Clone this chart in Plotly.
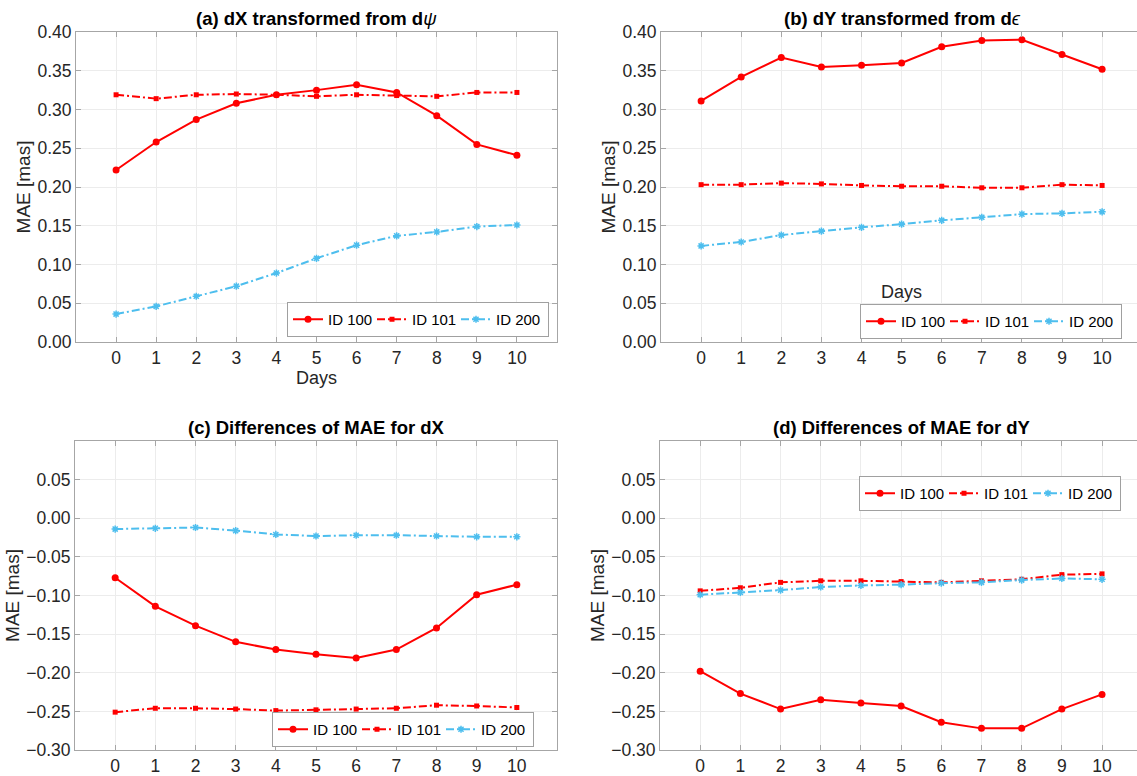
import plotly.graph_objects as go

days = list(range(11))
series_names = ["ID 100", "ID 101", "ID 200"]

a_id100 = [0.222, 0.258, 0.287, 0.308, 0.319, 0.325, 0.332, 0.322, 0.292, 0.255, 0.241]
a_id101 = [0.319, 0.314, 0.319, 0.320, 0.319, 0.317, 0.319, 0.318, 0.317, 0.322, 0.322]
a_id200 = [0.036, 0.046, 0.059, 0.072, 0.089, 0.108, 0.125, 0.137, 0.142, 0.149, 0.151]

b_id100 = [0.311, 0.342, 0.367, 0.355, 0.357, 0.360, 0.381, 0.389, 0.390, 0.371, 0.352]
b_id101 = [0.203, 0.203, 0.205, 0.204, 0.202, 0.201, 0.201, 0.199, 0.199, 0.203, 0.202]
b_id200 = [0.124, 0.129, 0.138, 0.143, 0.148, 0.152, 0.157, 0.161, 0.165, 0.166, 0.168]

c_id100 = [-0.077, -0.114, -0.139, -0.160, -0.170, -0.176, -0.181, -0.170, -0.142, -0.099, -0.086]
c_id101 = [-0.251, -0.246, -0.246, -0.247, -0.249, -0.248, -0.247, -0.246, -0.242, -0.243, -0.245]
c_id200 = [-0.014, -0.013, -0.012, -0.016, -0.021, -0.023, -0.022, -0.022, -0.023, -0.024, -0.024]

d_id100 = [-0.198, -0.227, -0.247, -0.235, -0.239, -0.243, -0.264, -0.272, -0.272, -0.247, -0.228]
d_id101 = [-0.094, -0.090, -0.083, -0.081, -0.081, -0.082, -0.083, -0.081, -0.079, -0.073, -0.072]
d_id200 = [-0.099, -0.096, -0.093, -0.089, -0.087, -0.086, -0.084, -0.083, -0.080, -0.078, -0.079]

titles = ["<b>(a) dX transformed from d</b><i>ψ</i>",
          "<b>(b) dY transformed from d</b><i>ϵ</i>",
          "<b>(c) Differences of MAE for dX</b>",
          "<b>(d) Differences of MAE for dY</b>"]
top_ticks = [0.0, 0.05, 0.10, 0.15, 0.20, 0.25, 0.30, 0.35, 0.40]
bottom_ticks = [-0.30, -0.25, -0.20, -0.15, -0.10, -0.05, 0.00, 0.05]

panels = [
    (a_id100, a_id101, a_id200),
    (b_id100, b_id101, b_id200),
    (c_id100, c_id101, c_id200),
    (d_id100, d_id101, d_id200),
]

RED = "#ff0000"
CYAN = "#4dbeee"
FONT = "Liberation Sans, Arial, Helvetica, sans-serif"
AXC = "#a6a6a6"
GRID = "#ececec"
TXT = "#262626"

styles = [
    dict(line=dict(color=RED, width=2, dash="solid"),
         marker=dict(symbol="circle", size=7, color=RED)),
    dict(line=dict(color=RED, width=2, dash="8px,3px,2px,3px"),
         marker=dict(symbol="square", size=5, color=RED)),
    dict(line=dict(color=CYAN, width=2, dash="8px,3px,2px,3px"),
         marker=dict(symbol="asterisk-open", size=6, color=CYAN,
                     line=dict(color=CYAN, width=1.5))),
]
entry_widths = [39, 39, 47]

W, H = 1137, 776
xdom = [[76 / W, 557 / W], [661 / W, 1.0], [75 / W, 557 / W], [660 / W, 1.0]]
ydom = [[1 - 342 / H, 1 - 32 / H], [1 - 342 / H, 1 - 32 / H],
        [1 - 750 / H, 1 - 441 / H], [1 - 750 / H, 1 - 441 / H]]
xranges = [[-1, 11], [-1, 10.87], [-1, 11], [-1, 10.87]]
yranges = [[0, 0.40], [0, 0.40], [-0.30, 0.10], [-0.30, 0.10]]
legend_pos = [
    dict(x=549 / W, y=1 - 337 / H, xanchor="right", yanchor="bottom"),
    dict(x=1122 / W, y=1 - 339 / H, xanchor="right", yanchor="bottom"),
    dict(x=534 / W, y=1 - 747 / H, xanchor="right", yanchor="bottom"),
    dict(x=1121 / W, y=1 - 476 / H, xanchor="right", yanchor="top"),
]

fig = go.Figure()
layout = dict(width=W, height=H, margin=dict(l=0, r=0, t=0, b=0, autoexpand=False),
              paper_bgcolor="white", plot_bgcolor="white",
              font=dict(family=FONT, size=17, color=TXT),
              annotations=[])

for i, vals in enumerate(panels):
    k = "" if i == 0 else str(i + 1)
    leg = "legend" if i == 0 else "legend" + str(i + 1)
    for j, v in enumerate(vals):
        fig.add_trace(go.Scatter(x=days, y=v, mode="lines+markers", name=series_names[j],
                                 xaxis="x" + k, yaxis="y" + k, legend=leg,
                                 legendwidth=entry_widths[j], **styles[j]))
    right_cut = i in (1, 3)
    layout["xaxis" + k] = dict(domain=xdom[i], anchor="y" + k, range=xranges[i],
                               tickvals=days, ticks="inside", ticklen=5, tickcolor=AXC,
                               showline=True, linecolor=AXC, linewidth=1, mirror="ticks",
                               showgrid=True, gridcolor=GRID, gridwidth=1, zeroline=False,
                               automargin=False,
                               tickfont=dict(size=17.5, color=TXT))
    ticks = top_ticks if i < 2 else bottom_ticks
    layout["yaxis" + k] = dict(domain=ydom[i], anchor="x" + k, range=yranges[i],
                               tickvals=ticks, tickformat=".2f", ticks="inside", ticklen=5,
                               tickcolor=AXC, showline=True, linecolor=AXC, linewidth=1,
                               mirror=False if right_cut else "ticks",
                               showgrid=True, gridcolor=GRID, gridwidth=1, zeroline=False,
                               automargin=False,
                               tickfont=dict(size=17.5, color=TXT),
                               title=dict(text="MAE [mas]", standoff=1,
                                          font=dict(size=19, color=TXT)))
    layout[leg] = dict(orientation="h", bgcolor="white", bordercolor="#a0a0a0",
                       borderwidth=1, font=dict(size=15, color="black"),
                       itemwidth=30, tracegroupgap=0, **legend_pos[i])
    xr = "x" + k + " domain"
    yr = "y" + k + " domain"
    layout["annotations"].append(dict(text=titles[i], xref=xr, yref=yr, x=0.5,
                                      y=1, yanchor="bottom", yshift=1, showarrow=False,
                                      font=dict(size=18.5, color="black")))

layout["annotations"][1]["x"] = (902 - 661) / (W - 661)
layout["annotations"][3]["x"] = (902 - 660) / (W - 660)

# "Days" labels
layout["annotations"].append(dict(text="Days", xref="x", yref="paper", x=5, y=1 - 378 / H,
                                  yanchor="middle", showarrow=False,
                                  font=dict(size=18, color=TXT)))
layout["annotations"].append(dict(text="Days", xref="x2", yref="y2", x=5, y=0.064,
                                  yanchor="middle", showarrow=False,
                                  font=dict(size=18, color=TXT)))

fig.update_layout(**layout)
fig.update_layout(showlegend=True)
fig.write_html("out.html")
